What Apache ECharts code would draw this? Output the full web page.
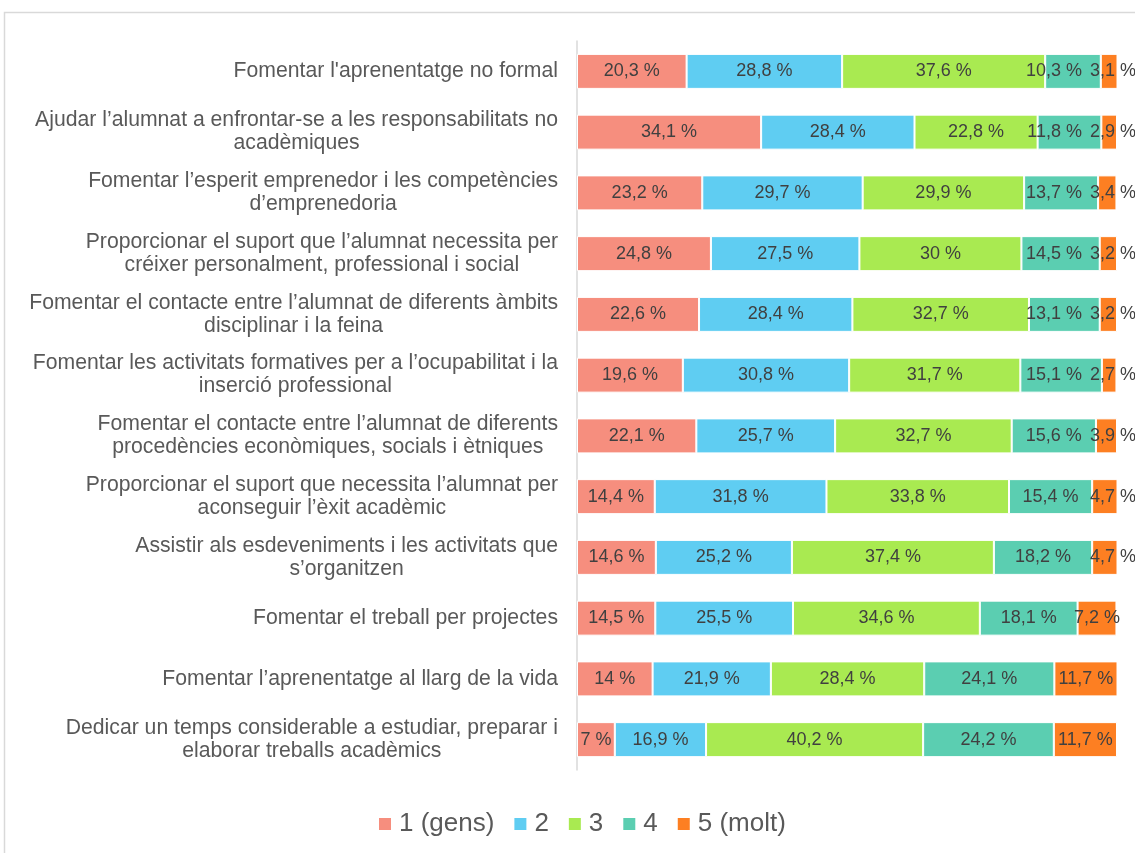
<!DOCTYPE html>
<html>
<head>
<meta charset="utf-8">
<script src="https://cdn.jsdelivr.net/npm/echarts@6/dist/echarts.min.js"></script>
<style>
  html, body { margin: 0; padding: 0; background: #fff; }
  #chart { width: 1135px; height: 853px; }
</style>
</head>
<body>
<div id="chart"></div>
<script>
var categories = [
  "Fomentar l'aprenentatge no formal",
  "Ajudar l\u2019alumnat a enfrontar-se a les responsabilitats no\nacadèmiques",
  "Fomentar l\u2019esperit emprenedor i les competències\nd\u2019emprenedoria",
  "Proporcionar el suport que l\u2019alumnat necessita per\ncréixer personalment, professional i social",
  "Fomentar el contacte entre l\u2019alumnat de diferents àmbits\ndisciplinar i la feina",
  "Fomentar les activitats formatives per a l\u2019ocupabilitat i la\ninserció professional",
  "Fomentar el contacte entre l\u2019alumnat de diferents\nprocedències econòmiques, socials i ètniques",
  "Proporcionar el suport que necessita l\u2019alumnat per\naconseguir l\u2019èxit acadèmic",
  "Assistir als esdeveniments i les activitats que\ns\u2019organitzen",
  "Fomentar el treball per projectes",
  "Fomentar l\u2019aprenentatge al llarg de la vida",
  "Dedicar un temps considerable a estudiar, preparar i\nelaborar treballs acadèmics"
];
var seriesNames = ["1 (gens)", "2", "3", "4", "5 (molt)"];
var val1 = [20.3, 34.1, 23.2, 24.8, 22.6, 19.6, 22.1, 14.4, 14.6, 14.5, 14, 7];
var val2 = [28.8, 28.4, 29.7, 27.5, 28.4, 30.8, 25.7, 31.8, 25.2, 25.5, 21.9, 16.9];
var val3 = [37.6, 22.8, 29.9, 30, 32.7, 31.7, 32.7, 33.8, 37.4, 34.6, 28.4, 40.2];
var val4 = [10.3, 11.8, 13.7, 14.5, 13.1, 15.1, 15.6, 15.4, 18.2, 18.1, 24.1, 24.2];
var val5 = [3.1, 2.9, 3.4, 3.2, 3.2, 2.7, 3.9, 4.7, 4.7, 7.2, 11.7, 11.7];
var colors = ["#F68E7E", "#5FCDF2", "#A9EA51", "#5BCEB1", "#FD7F22"];

var FONT = "Liberation Sans, Arial, sans-serif";
var chart = echarts.init(document.getElementById("chart"), null, { renderer: "canvas" });
var allValues = [val1, val2, val3, val4, val5];
var series = allValues.map(function (vals, i) {
  return {
    name: seriesNames[i],
    type: "bar",
    stack: "total",
    barWidth: 35,
    data: vals,
    itemStyle: { color: colors[i], borderColor: "#fff", borderWidth: 1 },
    label: {
      show: true,
      position: "inside",
      color: "#404040",
      fontSize: 18,
      fontFamily: FONT,
      formatter: function (p) {
        return String(p.value).replace(".", ",") + " %";
      }
    }
  };
});

// push crowded labels at the end of the bar apart, like the original
function labelLayout(params) {
  var r = params.labelRect;
  var edge = chart.getWidth() + 1;
  if (val5[params.dataIndex] >= 5) return {};
  if (params.seriesIndex === 4) {
    return { dx: edge - (r.x + r.width) };
  }
  if (params.seriesIndex === 3) {
    var limit = edge - 46 - 8;
    if (r.x + r.width > limit) return { dx: limit - (r.x + r.width) };
  }
  return {};
}

var option = {
  animation: false,
  backgroundColor: "#fff",
  graphic: [{
    type: "rect",
    shape: { x: 4.5, y: 12.5, width: 1200, height: 900 },
    style: { fill: "none", stroke: "#d9d9d9", lineWidth: 1.5 },
    silent: true
  }],
  grid: { left: 577, right: 18, top: 41, bottom: 83 },
  legend: {
    data: seriesNames,
    left: 372,
    top: 806,
    itemWidth: 14,
    itemHeight: 14,
    itemGap: 18,
    icon: "rect",
    textStyle: { fontSize: 26, color: "#595959", fontFamily: FONT, padding: [0, 0, 0, 2] }
  },
  xAxis: {
    type: "value",
    min: 0,
    max: 100,
    show: false,
    splitLine: { show: false }
  },
  yAxis: {
    type: "category",
    inverse: true,
    data: categories,
    axisLine: { show: true, lineStyle: { color: "#d9d9d9", width: 1.5 } },
    axisTick: { show: false },
    axisLabel: {
      margin: 19,
      color: "#595959",
      fontSize: 21.2,
      lineHeight: 23,
      fontFamily: FONT,
      formatter: function (v) {
        return v.split("\n").map(function (s) { return "{c|" + s + "}"; }).join("\n");
      },
      rich: {
        c: { align: "center", color: "#595959", fontSize: 21.2, lineHeight: 23, fontFamily: FONT }
      }
    }
  },
  labelLayout: labelLayout,
  series: series
};
chart.setOption(option);
</script>
</body>
</html>
